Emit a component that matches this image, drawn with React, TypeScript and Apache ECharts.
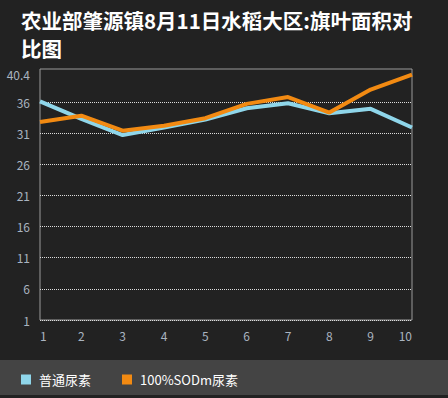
import React, { useEffect, useRef } from "react";
import * as echarts from "echarts";

const categories = ["1", "2", "3", "4", "5", "6", "7", "8", "9", "10"];
const seriesNames = ["普通尿素", "100%SODm尿素"];
const normalUrea = [36.1, 33.3, 30.7, 31.9, 33.2, 35.0, 35.8, 34.2, 34.9, 31.9];
const sodUrea = [32.8, 33.8, 31.4, 32.2, 33.4, 35.7, 36.8, 34.3, 38.0, 40.4];
const yLabelValues = [1, 6, 11, 16, 21, 26, 31, 36, 40.4];
const yGridValues = [1, 6, 11, 16, 21, 26, 31, 36];
const titleText = "农业部肇源镇8月11日水稻大区:旗叶面积对\n比图";

export default function App() {
  const ref = useRef<HTMLDivElement>(null);
  useEffect(() => {
    if (!ref.current) return;
    const chart = echarts.init(ref.current, null, { renderer: "svg" });
    const font = "'Noto Sans CJK SC', 'Noto Sans', sans-serif";
    chart.setOption({
      animation: false,
      backgroundColor: "#222222",
      textStyle: { fontFamily: font },
      title: {
        text: titleText,
        left: 21,
        top: 6,
        padding: 0,
        textStyle: {
          color: "#ffffff",
          fontSize: 20.5,
          fontWeight: "bold",
          lineHeight: 28,
          fontFamily: font,
        },
      },
      graphic: [
        {
          type: "rect",
          left: 0,
          top: 360,
          shape: { width: 448, height: 35 },
          style: { fill: "#444444" },
          z: 0,
        },
      ],
      legend: {
        left: 21,
        top: 373,
        padding: 0,
        icon: "rect",
        itemWidth: 10,
        itemHeight: 10,
        itemGap: 31,
        data: seriesNames,
        textStyle: { color: "#ffffff", fontSize: 13, padding: [0, 0, 0, 3], fontFamily: font },
      },
      grid: {
        left: 40,
        right: 36,
        top: 69,
        bottom: 78,
        show: true,
        borderColor: "#9a9a9a",
        borderWidth: 1,
        backgroundColor: "transparent",
      },
      xAxis: {
        type: "category",
        data: categories,
        boundaryGap: false,
        axisLine: { show: false },
        axisTick: { show: false },
        splitLine: { show: false },
        axisLabel: { color: "#aab4c0", fontSize: 12, margin: 9, alignMinLabel: "left", alignMaxLabel: "right" },
      },
      yAxis: {
        type: "value",
        min: 1,
        max: 41.3,
        interval: 5,
        axisLine: { show: false },
        axisTick: { show: false, customValues: yGridValues },
        axisLabel: {
          color: "#aab4c0",
          fontSize: 12,
          margin: 10,
          padding: [6, 0, 0, 0],
          customValues: yLabelValues,
          formatter: (v: number) => String(v),
        },
        splitLine: {
          show: true,
          lineStyle: { color: "#dddddd", type: "dotted", width: 1 },
        },
      },
      series: [
        {
          name: seriesNames[0],
          type: "line",
          data: normalUrea,
          symbol: "none",
          itemStyle: { color: "#8fd6ea" },
          lineStyle: { color: "#8fd6ea", width: 4 },
        },
        {
          name: seriesNames[1],
          type: "line",
          data: sodUrea,
          symbol: "none",
          itemStyle: { color: "#f28a12" },
          lineStyle: { color: "#f28a12", width: 4 },
        },
      ],
    });
    return () => chart.dispose();
  }, []);
  return (
    <div
      ref={ref}
      style={{ position: "fixed", left: 0, top: 0, width: 448, height: 398 }}
    />
  );
}
